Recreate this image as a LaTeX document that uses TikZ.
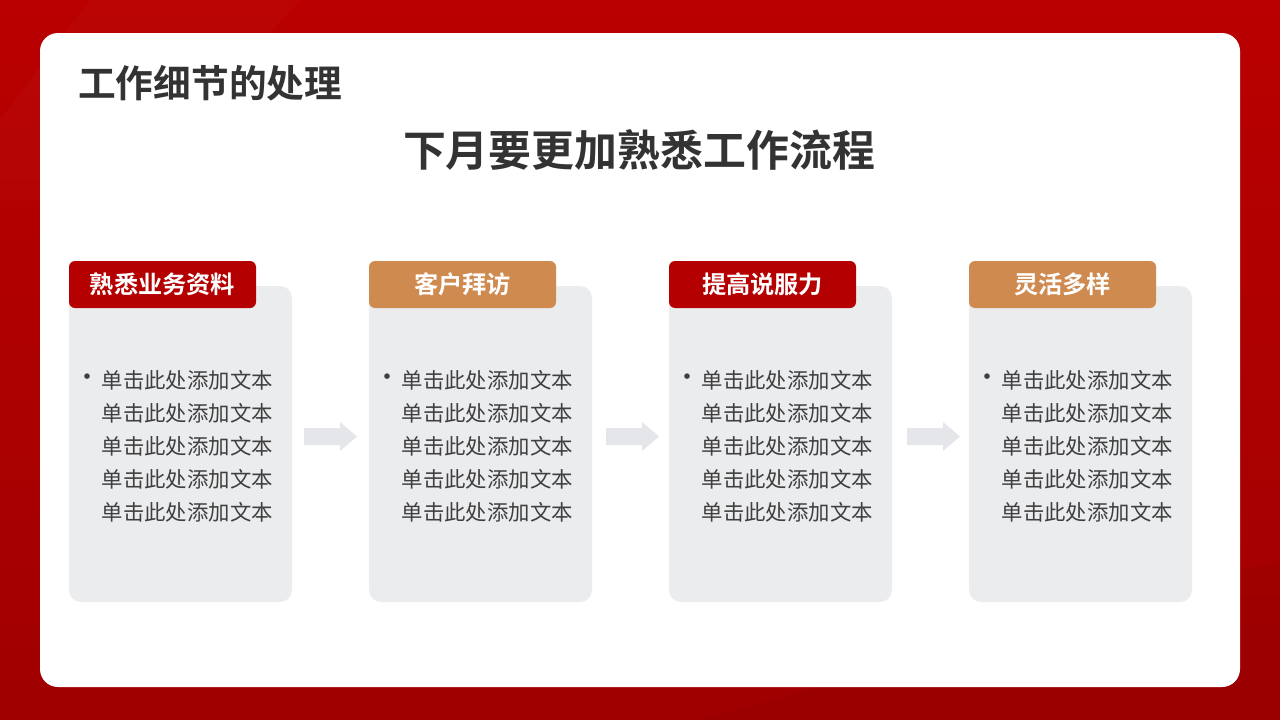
\documentclass[tikz,border=0pt]{standalone}
\usepackage{fontspec}
\setmainfont{Noto Sans CJK SC}
\newfontfamily\cjkb{Noto Sans CJK SC Bold}
\usetikzlibrary{calc}
\definecolor{bgA}{HTML}{BA0000}
\definecolor{bgB}{HTML}{A00000}
\definecolor{lblred}{HTML}{B40000}
\definecolor{lblorg}{HTML}{CF8A4F}
\definecolor{cardgray}{HTML}{EBECEE}
\definecolor{arrowgray}{HTML}{E5E6E9}
\definecolor{bodytxt}{HTML}{3F3F3F}
\definecolor{titletxt}{HTML}{333333}
\tikzset{
  card/.style={fill=cardgray, rounded corners=12pt},
  lblbox/.style={rounded corners=6pt},
  lbltext/.style={text=white, font=\cjkb\fontsize{24.2}{28}\selectfont, inner sep=0pt},
  bodytext/.style={text=bodytxt, font=\fontsize{21.4}{25}\selectfont, inner sep=0pt, anchor=base west},
  flowarrow/.style={fill=arrowgray},
}
\begin{document}
\begin{tikzpicture}[x=1pt,y=-1pt]
\useasboundingbox (0,0) rectangle (1280,720);
% background
\shade[top color=bgA, bottom color=bgB] (0,0) rectangle (1280,720);
\fill[white, opacity=0.02] (90,0) -- (300,0) -- (120,200) -- (0,200) -- (0,120) -- cycle;
\fill[black, opacity=0.03] (700,720) -- (1280,560) -- (1280,720) -- cycle;
% panel
\fill[white, rounded corners=18pt] (40,33) rectangle (1240,687);
% titles
\node[anchor=base west, inner sep=0pt, text=titletxt, font=\cjkb\fontsize{37.7}{42}\selectfont] (title) at (78,97.5) {工作细节的处理};
\node[anchor=base, inner sep=0pt, text=titletxt, font=\cjkb\fontsize{42.9}{46}\selectfont] (subtitle) at (639,166) {下月要更加熟悉工作流程};
% cards
\foreach \i/\lab/\col in {0/熟悉业务资料/lblred, 1/客户拜访/lblorg, 2/提高说服力/lblred, 3/灵活多样/lblorg}{
  \pgfmathsetmacro{\xo}{69+300*\i}
  \fill[card] (\xo,286) rectangle ++(223,316);
  \fill[lblbox, fill=\col] (\xo,261) rectangle ++(187,47);
  \node[lbltext] (lab\i) at (\xo+93.5,284.5) {\lab};
  \node[text=bodytxt, font=\fontsize{26}{30}\selectfont, inner sep=0pt] (bul\i) at (\xo+18,380) {•};
  \foreach \j in {0,...,4}{
    \node[bodytext] (txt\i-\j) at (\xo+32.5,388+33*\j) {单击此处添加文本};
  }
}
% arrows
\foreach \k/\ax in {1/304, 2/606, 3/907}{
  \coordinate (ar\k) at (\ax,436.5);
  \fill[flowarrow] (ar\k) ++(0,-8.5) -- ++(36,0) -- ++(0,-6) -- ++(17,14.5) -- ++(-17,14.5) -- ++(0,-6) -- ++(-36,0) -- cycle;
}
\end{tikzpicture}
\end{document}
